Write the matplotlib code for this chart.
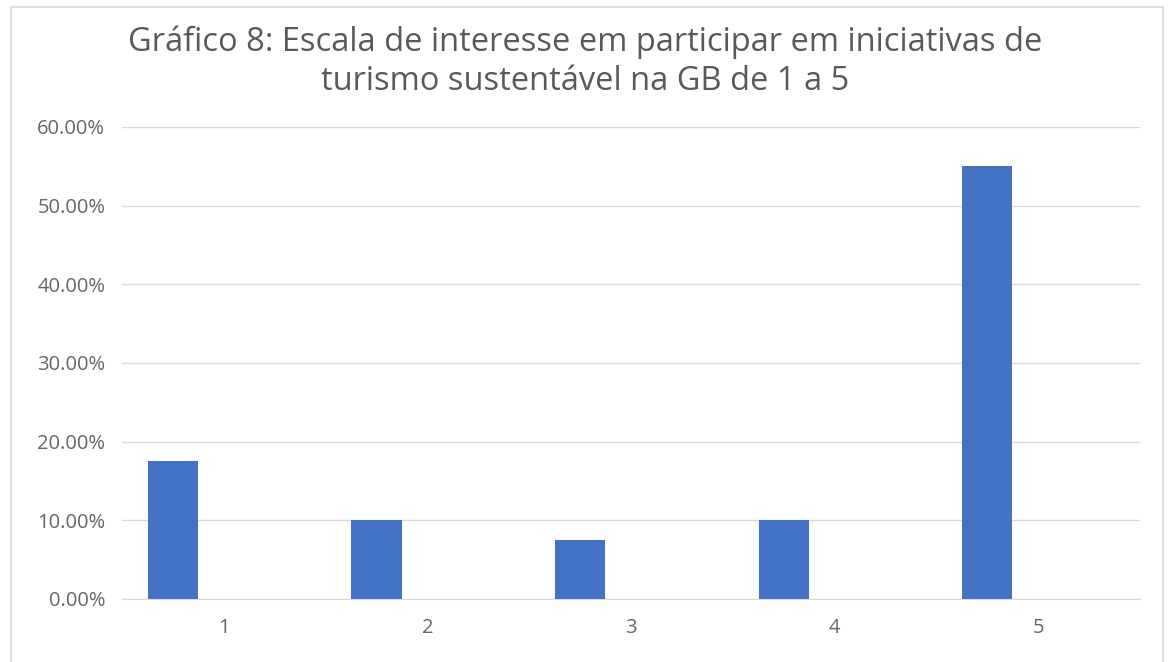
import matplotlib
matplotlib.use("Agg")
import matplotlib.pyplot as plt
from matplotlib.ticker import FuncFormatter
from matplotlib.patches import Rectangle

categories = ["1", "2", "3", "4", "5"]
values = [0.175, 0.10, 0.075, 0.10, 0.55]
yticks = [0.0, 0.1, 0.2, 0.3, 0.4, 0.5, 0.6]
title = "Gráfico 8: Escala de interesse em participar em iniciativas de\nturismo sustentável na GB de 1 a 5"

plt.rcParams['font.family'] = ['Open Sans', 'DejaVu Sans']

fig = plt.figure(figsize=(11.7, 6.62), dpi=100)
fig.patches.append(Rectangle((11/1170, -10/662), 1152/1170, 665/662, transform=fig.transFigure,
                             fill=False, edgecolor="#d9d9d9", linewidth=1.2))
ax = fig.add_axes([122/1170, 1 - 599/662, 1018/1170, 472/662])

x = list(range(len(categories)))
ax.bar([i - 0.25 for i in x], values, width=0.246, color="#4472C4", zorder=3)

ax.set_xlim(-0.5, len(categories) - 0.5)
ax.set_ylim(0, 0.6)
ax.set_yticks(yticks)
ax.yaxis.set_major_formatter(FuncFormatter(lambda v, p: f"{v*100:.2f}%"))
ax.set_xticks(x)
ax.set_xticklabels(categories)
ax.grid(axis="y", color="#d9d9d9", linewidth=1, zorder=0)
for s in ["top", "right", "left"]:
    ax.spines[s].set_visible(False)
ax.spines["bottom"].set_color("#d9d9d9")
ax.tick_params(axis="both", length=0, colors="#666666", labelsize=14.5)
ax.tick_params(axis="y", pad=12)
ax.tick_params(axis="x", pad=14)

fig.text(0.5, 1 - 62/662, title, ha="center", va="center", fontsize=23.5,
         color="#595959", linespacing=1.25)

fig.savefig("out.png", dpi=100)
